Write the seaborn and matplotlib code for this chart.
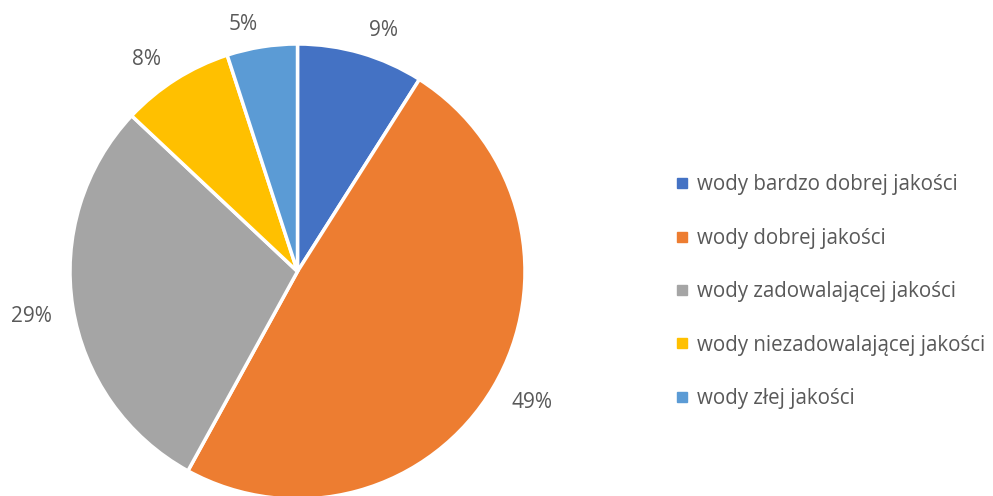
import numpy as np
import seaborn as sns
import matplotlib.pyplot as plt
from matplotlib.lines import Line2D

categories = [
    "wody bardzo dobrej jakości",
    "wody dobrej jakości",
    "wody zadowalającej jakości",
    "wody niezadowalającej jakości",
    "wody złej jakości",
]
shares = [9, 49, 29, 8, 5]
colors = ["#4472C4", "#ED7D31", "#A5A5A5", "#FFC000", "#5B9BD5"]

sns.set_style("white")
plt.rcParams["font.family"] = ["Open Sans", "DejaVu Sans"]
text_color = "#595959"

fig = plt.figure(figsize=(9.93, 4.96), dpi=100)
W, H = 993, 496
R = 227.5
cx, cy = 297.5, 271.5
ax = fig.add_axes([(cx - R) / W, (H - cy - R) / H, 2 * R / W, 2 * R / H])

wedges, _ = ax.pie(shares, colors=colors, startangle=90, counterclock=False,
                   wedgeprops=dict(edgecolor="white", linewidth=2.5))
ax.set_xlim(-1, 1)
ax.set_ylim(-1, 1)
ax.set_aspect("equal")
ax.axis("off")

# labels outside the end of each slice
for w, v in zip(wedges, shares):
    ang = np.deg2rad((w.theta1 + w.theta2) / 2)
    c, s = np.cos(ang), np.sin(ang)
    x = 1.12 * c + 0.065 * np.sign(c)
    y = 1.07 * s + 0.03 * np.sign(s)
    ax.text(x, y, f"{v}%", ha="center", va="center", fontsize=15,
            color=text_color, clip_on=False)

handles = [Line2D([0], [0], marker="s", linestyle="", markersize=6.5,
                  markerfacecolor=col, markeredgecolor=col) for col in colors]
fig.legend(handles, categories, loc="upper left", bbox_to_anchor=(667 / W, 1 - 166 / H),
           frameon=False, fontsize=14.8, labelcolor=text_color, handlelength=0.7,
           handletextpad=0.35, labelspacing=1.58, borderaxespad=0)

fig.savefig("out.png", dpi=100)
